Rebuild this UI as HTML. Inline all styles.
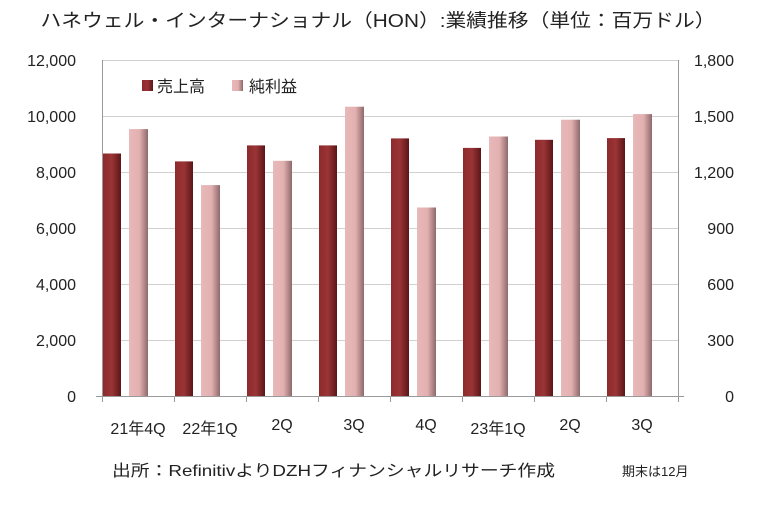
<!DOCTYPE html>
<html><head><meta charset="utf-8"><style>
body{margin:0;background:#fff;width:779px;height:503px;overflow:hidden}
svg text{font-family:"Liberation Sans","Noto Sans CJK JP",sans-serif;fill:#222}
</style></head><body>
<svg width="779" height="503" viewBox="0 0 779 503" xmlns="http://www.w3.org/2000/svg">
<defs>
<linearGradient id="r" x1="0" x2="1" y1="0" y2="0">
<stop offset="0" stop-color="#8e2a2c"/><stop offset="0.5" stop-color="#9a3436"/><stop offset="1" stop-color="#5a1517"/></linearGradient>
<linearGradient id="p" x1="0" x2="1" y1="0" y2="0">
<stop offset="0" stop-color="#e8b9ba"/><stop offset="0.55" stop-color="#e3b0b1"/><stop offset="1" stop-color="#8e6a6b"/></linearGradient>
</defs>
<text x="378" y="27" font-size="18.5" text-anchor="middle" textLength="675" lengthAdjust="spacingAndGlyphs">ハネウェル・インターナショナル（HON）:業績推移（単位：百万ドル）</text>
<g stroke="#d0d0d0" stroke-width="1">
<line x1="102" y1="60.5" x2="678" y2="60.5"/><line x1="102" y1="116.5" x2="678" y2="116.5"/>
<line x1="102" y1="172.5" x2="678" y2="172.5"/><line x1="102" y1="228.5" x2="678" y2="228.5"/>
<line x1="102" y1="284.5" x2="678" y2="284.5"/><line x1="102" y1="340.5" x2="678" y2="340.5"/>
</g>
<g fill="url(#r)">
<rect x="103" y="153.5" width="18" height="242.5"/>
<rect x="175" y="161.4" width="18" height="234.6"/>
<rect x="247" y="145.4" width="18" height="250.6"/>
<rect x="319" y="145.4" width="18" height="250.6"/>
<rect x="391" y="138.4" width="18" height="257.6"/>
<rect x="463" y="147.9" width="18" height="248.1"/>
<rect x="535" y="139.8" width="18" height="256.2"/>
<rect x="607" y="138.1" width="18" height="257.9"/>
</g>
<g fill="url(#p)">
<rect x="129" y="129.1" width="19" height="266.9"/>
<rect x="201" y="185.1" width="19" height="210.9"/>
<rect x="273" y="160.8" width="19" height="235.2"/>
<rect x="345" y="106.7" width="19" height="289.3"/>
<rect x="417" y="207.5" width="19" height="188.5"/>
<rect x="489" y="136.5" width="19" height="259.5"/>
<rect x="561" y="119.7" width="19" height="276.3"/>
<rect x="633" y="114.1" width="19" height="281.9"/>
</g>
<g stroke="#999" stroke-width="1">
<line x1="102.5" y1="60" x2="102.5" y2="402"/><line x1="678.5" y1="60" x2="678.5" y2="402"/>
<line x1="96" y1="396.5" x2="684" y2="396.5"/>
<line x1="174.5" y1="396" x2="174.5" y2="402"/><line x1="246.5" y1="396" x2="246.5" y2="402"/>
<line x1="318.5" y1="396" x2="318.5" y2="402"/><line x1="390.5" y1="396" x2="390.5" y2="402"/>
<line x1="462.5" y1="396" x2="462.5" y2="402"/><line x1="534.5" y1="396" x2="534.5" y2="402"/>
<line x1="606.5" y1="396" x2="606.5" y2="402"/>
</g>
<g font-size="16" text-anchor="end">
<text x="76" y="66">12,000</text><text x="76" y="122">10,000</text><text x="76" y="178">8,000</text>
<text x="76" y="234">6,000</text><text x="76" y="290">4,000</text><text x="76" y="346">2,000</text><text x="76" y="402">0</text>
</g>
<g font-size="16" text-anchor="end">
<text x="734" y="66">1,800</text><text x="734" y="122">1,500</text><text x="734" y="178">1,200</text>
<text x="734" y="234">900</text><text x="734" y="290">600</text><text x="734" y="346">300</text><text x="734" y="402">0</text>
</g>
<g font-size="16" text-anchor="middle">
<text x="138" y="434">21年4Q</text><text x="210" y="434">22年1Q</text><text x="282" y="430">2Q</text><text x="354" y="430">3Q</text>
<text x="426" y="430">4Q</text><text x="498" y="434">23年1Q</text><text x="570" y="430">2Q</text><text x="642" y="430">3Q</text>
</g>
<rect x="142" y="80" width="11" height="11" fill="url(#r)"/>
<text x="157" y="92" font-size="16">売上高</text>
<rect x="232" y="80" width="11" height="11" fill="url(#p)"/>
<text x="249" y="92" font-size="16">純利益</text>
<text x="112" y="476" font-size="16" textLength="443" lengthAdjust="spacingAndGlyphs">出所：RefinitivよりDZHフィナンシャルリサーチ作成</text>
<text x="622" y="476" font-size="13">期末は12月</text>
</svg>
</body></html>
